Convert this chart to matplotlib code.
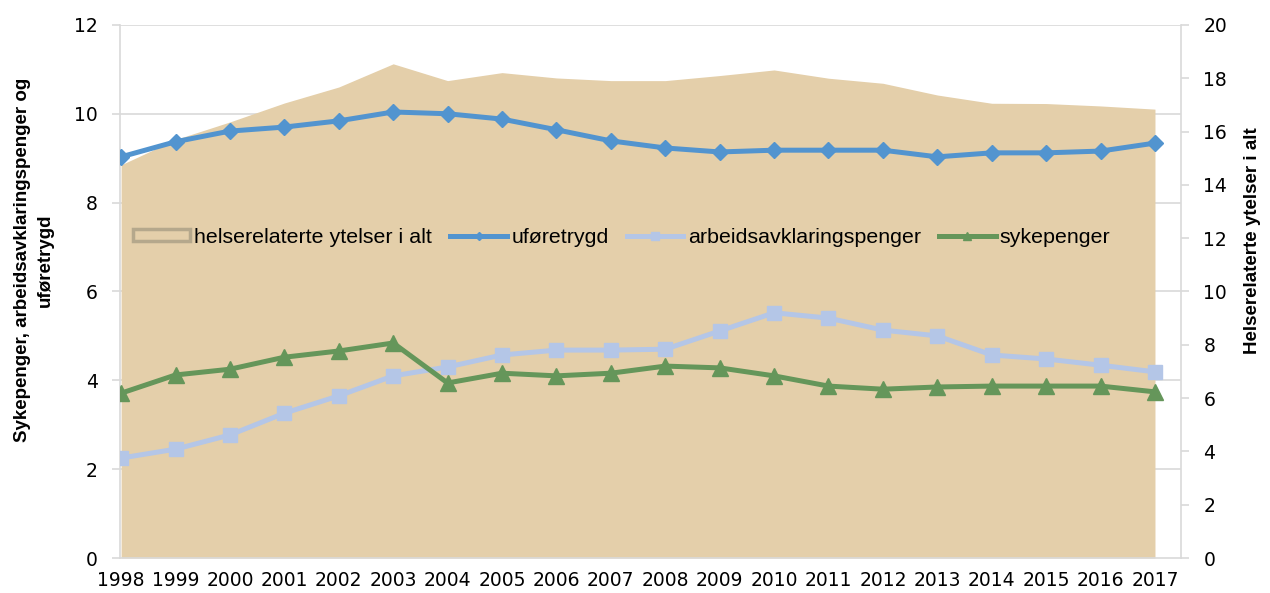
import matplotlib
matplotlib.use("Agg")
import matplotlib.pyplot as plt
from matplotlib.patches import Patch
from matplotlib import font_manager

years = list(range(1998, 2018))
helse_total = [14.75, 15.7, 16.36, 17.07, 17.67, 18.54, 17.91, 18.21, 18.01, 17.91,
               17.91, 18.1, 18.31, 18.0, 17.81, 17.37, 17.06, 17.05, 16.96, 16.84]
uforetrygd = [9.03, 9.37, 9.61, 9.70, 9.84, 10.04, 10.0, 9.88, 9.64, 9.39,
              9.23, 9.14, 9.18, 9.18, 9.18, 9.03, 9.12, 9.12, 9.16, 9.34]
aap = [2.25, 2.45, 2.77, 3.26, 3.65, 4.10, 4.30, 4.57, 4.68, 4.68,
       4.70, 5.11, 5.52, 5.40, 5.13, 5.00, 4.57, 4.48, 4.34, 4.19]
sykepenger = [3.71, 4.12, 4.25, 4.52, 4.66, 4.84, 3.94, 4.16, 4.10, 4.16,
              4.32, 4.28, 4.10, 3.87, 3.80, 3.85, 3.87, 3.87, 3.87, 3.74]
left_ticks = [0, 2, 4, 6, 8, 10, 12]
right_ticks = [0, 2, 4, 6, 8, 10, 12, 14, 16, 18, 20]

AREA = "#E4CFAA"
AREA_EDGE = "#B5A88C"
BLUE = "#5294CF"
LBLUE = "#B4C6E7"
GREEN = "#65965A"
GRID = "#D9D9D9"

plt.rcParams['font.family'] = ['DejaVu Sans']

names = {f.name for f in font_manager.fontManager.ttflist}
narrow = 'Liberation Sans Narrow' if 'Liberation Sans Narrow' in names else 'Liberation Sans'
leg_size = 18.7 if narrow == 'Liberation Sans Narrow' else 15.4

fig = plt.figure(figsize=(12.7, 5.93), dpi=100)
ax = fig.add_axes([0.0945, 0.059, 0.8355, 0.899])
ax2 = ax.twinx()

# area on right axis
ax2.fill_between(years, helse_total, 0, color=AREA, linewidth=0, zorder=2)
ax2.set_ylim(0, 20)
ax2.set_yticks(right_ticks)
for t in left_ticks[1:]:
    ax2.axhline(t * 20 / 12, color=GRID, linewidth=1.2, zorder=1)

# lines on left axis
ax.plot(years, uforetrygd, color=BLUE, lw=3.6, marker='D', ms=8.5, label='uføretrygd', zorder=3)
ax.plot(years, aap, color=LBLUE, lw=3.6, marker='s', ms=10.5, label='arbeidsavklaringspenger', zorder=3)
ax.plot(years, sykepenger, color=GREEN, lw=3.6, marker='^', ms=11, label='sykepenger', zorder=3)
ax.set_ylim(0, 12)
ax.set_yticks(left_ticks)
ax.set_xlim(1997.98, 2017.48)
ax.set_xticks(years)
ax.set_xticklabels([str(y) for y in years])

ax.set_zorder(ax2.get_zorder() + 1)
ax.patch.set_visible(False)

for a in (ax, ax2):
    for s in a.spines.values():
        s.set_color(GRID)
        s.set_linewidth(1.2)
    a.spines['top'].set_visible(False)
    a.tick_params(axis='y', colors=GRID, labelcolor='#000000', labelsize=13.5, length=6, width=1.2)
ax.spines['right'].set_visible(False)
ax2.spines['left'].set_visible(False)
ax2.spines['bottom'].set_visible(False)
ax.tick_params(axis='x', length=0, labelsize=13.5, pad=9)
ax.tick_params(axis='y', pad=10)
ax2.tick_params(axis='y', pad=10)

lab_font = {'family': ['Liberation Sans', 'DejaVu Sans'], 'size': 13.5, 'weight': 'bold'}
ax.set_ylabel("Sykepenger, arbeidsavklaringspenger og\nuføretrygd", fontdict=lab_font,
              linespacing=1.45)
ax2.set_ylabel("Helserelaterte ytelser i alt", fontdict=lab_font)
ax.yaxis.set_label_coords(-0.062, 0.559)
ax2.yaxis.set_label_coords(1.059, 0.595)

handles = [Patch(facecolor=AREA, edgecolor=AREA_EDGE, linewidth=2.5)] + ax.get_legend_handles_labels()[0]
labels = ['helserelaterte ytelser i alt'] + ax.get_legend_handles_labels()[1]
leg = ax.legend(handles, labels, loc='center', bbox_to_anchor=(0.473, 0.602), ncol=4,
                frameon=False, prop={'family': [narrow, 'DejaVu Sans'], 'size': leg_size},
                handlelength=2.65, handleheight=0.5, handletextpad=0.2, columnspacing=0.85,
                markerscale=0.5)

fig.savefig("out.png", dpi=100)
